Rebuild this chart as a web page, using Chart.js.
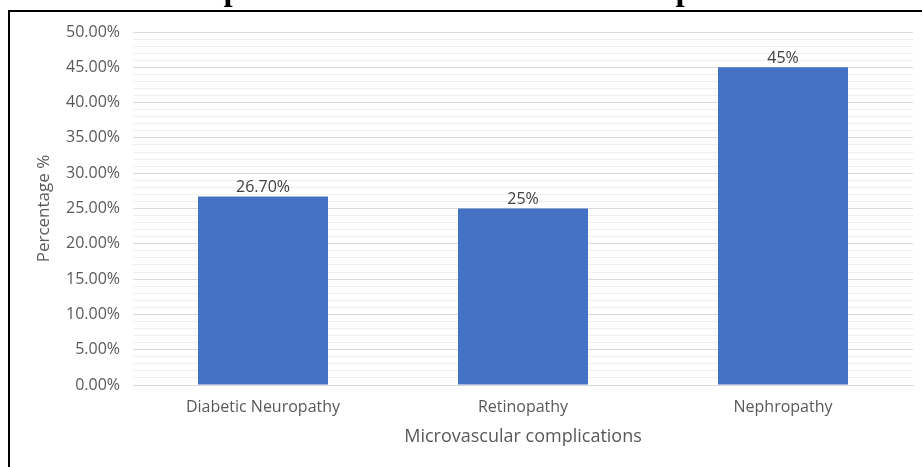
<!DOCTYPE html>
<html>
<head>
<meta charset="utf-8">
<script src="https://cdn.jsdelivr.net/npm/chart.js@4/dist/chart.umd.min.js"></script>
<style>
  html, body { margin: 0; padding: 0; background: #ffffff; }
  #wrap { position: relative; width: 922px; height: 467px; }
</style>
</head>
<body>
<div id="wrap"><canvas id="chart" width="922" height="467"></canvas></div>
<script>
// Microvascular complications and their share of patients
const complications = ['Diabetic Neuropathy', 'Retinopathy', 'Nephropathy'];
const percentages = [26.7, 25, 45];
const valueLabels = ['26.70%', '25%', '45%'];
const yMax = 50;
const majorStep = 5;
const figureTitle = 'Graph 3: Distribution based on complications';

// Figure frame and the caption above it
const framePlugin = {
  id: 'frame',
  beforeDraw(chart) {
    const ctx = chart.ctx;
    ctx.save();
    ctx.fillStyle = '#ffffff';
    ctx.fillRect(0, 0, chart.width, chart.height);
    ctx.strokeStyle = '#000000';
    ctx.lineWidth = 2;
    ctx.beginPath();
    ctx.moveTo(9, chart.height);
    ctx.lineTo(9, 11);
    ctx.lineTo(chart.width, 11);
    ctx.stroke();
    ctx.fillStyle = '#000000';
    ctx.font = 'bold 33px "Liberation Serif", "Times New Roman", serif';
    ctx.textAlign = 'center';
    ctx.textBaseline = 'alphabetic';
    ctx.fillText(figureTitle, 489, 0);
    ctx.restore();
  }
};

// Value text above each bar
const barLabelPlugin = {
  id: 'barLabels',
  afterDatasetsDraw(chart) {
    const ctx = chart.ctx;
    const meta = chart.getDatasetMeta(0);
    ctx.save();
    ctx.fillStyle = '#404040';
    ctx.font = '16px "Open Sans", sans-serif';
    ctx.textAlign = 'center';
    ctx.textBaseline = 'bottom';
    meta.data.forEach((bar, i) => {
      ctx.fillText(valueLabels[i], bar.x, bar.y - 1);
    });
    ctx.restore();
  }
};

new Chart(document.getElementById('chart'), {
  type: 'bar',
  data: {
    labels: complications,
    datasets: [{
      data: percentages,
      backgroundColor: '#4472C4',
      borderWidth: 0,
      barPercentage: 0.5,
      categoryPercentage: 1.0
    }]
  },
  options: {
    responsive: false,
    animation: false,
    devicePixelRatio: 1,
    layout: { autoPadding: false, padding: { left: 0, right: 9, top: 32, bottom: 0 } },
    plugins: {
      legend: { display: false },
      tooltip: { enabled: false },
      title: { display: false }
    },
    scales: {
      x: {
        grid: { display: false, drawTicks: false },
        border: { display: true, color: '#d9d9d9', width: 1 },
        ticks: {
          color: '#595959',
          font: { family: '"Open Sans", sans-serif', size: 16 },
          padding: 13
        },
        title: {
          display: true,
          text: 'Microvascular complications',
          color: '#595959',
          font: { family: '"Open Sans", sans-serif', size: 18 },
          padding: { top: 0, bottom: 19 }
        },
        afterFit(scale) { scale.height = 82; }
      },
      y: {
        min: 0,
        max: yMax,
        grid: {
          drawTicks: false,
          color: (c) => (c.tick && c.tick.value % majorStep === 0) ? '#d9d9d9' : '#efefef',
          lineWidth: 1
        },
        border: { display: false },
        ticks: {
          stepSize: 1,
          autoSkip: false,
          color: '#595959',
          font: { family: '"Open Sans", sans-serif', size: 16 },
          padding: 13,
          callback: (v) => (v % majorStep === 0) ? v.toFixed(2) + '%' : ''
        },
        title: {
          display: true,
          text: 'Percentage %',
          color: '#595959',
          font: { family: '"Open Sans", sans-serif', size: 17 },
          padding: { top: 34, bottom: 0 }
        },
        afterFit(scale) { scale.width = 133; }
      }
    }
  },
  plugins: [framePlugin, barLabelPlugin]
});
</script>
</body>
</html>
